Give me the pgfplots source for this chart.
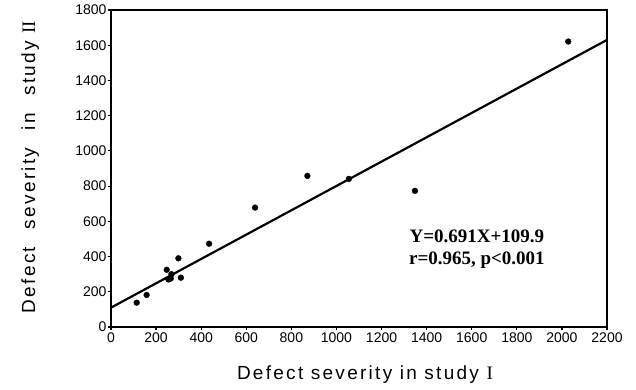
\documentclass[border=0pt]{standalone}
\usepackage{fontspec}
\setmainfont{Liberation Sans}
\newfontfamily\serif{Liberation Serif}
\newfontfamily\labelfont[LetterSpace=12]{Liberation Sans}
\newcommand\ws{\hspace{10pt}}
\usepackage{pgfplots}
\pgfplotsset{compat=1.18}
\begin{document}
\begin{tikzpicture}
\path[use as bounding box] (-111pt,-63pt) rectangle (525pt,327pt);
\begin{axis}[
  at={(0pt,0pt)}, anchor=south west,
  scale only axis, width=496pt, height=317pt,
  xmin=0, xmax=2200, ymin=0, ymax=1800,
  xtick distance=200, ytick distance=200,
  tick align=outside, major tick length=3pt,
  xtick pos=bottom, ytick pos=left,
  axis line style={line width=1.6pt},
  tick style={line width=1.2pt, black},
  /pgf/number format/assume math mode=true,
  /pgf/number format/1000 sep={},
  tick label style={font=\fontsize{14}{16}\selectfont},
  xticklabel style={yshift=1pt},
  yticklabel style={xshift=2pt},
  xlabel={\labelfont\fontsize{19}{22}\selectfont Defect severity in study {\serif I}},
  ylabel={\labelfont\fontsize{19}{22}\selectfont Defect\ws{} severity\ws{} in\ws{} study {\serif II}},
  xlabel style={at={(axis description cs:0.512,-0.151)}, anchor=center},
  ylabel style={at={(axis description cs:-0.163,0.505)}, anchor=center},
  clip=false,
]
\addplot[only marks, mark=*, mark size=2.9pt, black] coordinates {
 (114,138) (158,182) (247,325) (255,270) (268,300) (265,275) (299,390)
 (310,280) (435,473) (639,678) (871,858) (1055,841) (1348,773) (2028,1621)
};
\addplot[black, line width=2.2pt] coordinates {(0,109.9) (2200,1630.1)};
\node[font=\serif\bfseries\fontsize{19}{22}\selectfont, align=center] at (axis cs:1623,443)
  {Y=0.691X+109.9\\r=0.965, p<0.001};
\end{axis}
\end{tikzpicture}
\end{document}
